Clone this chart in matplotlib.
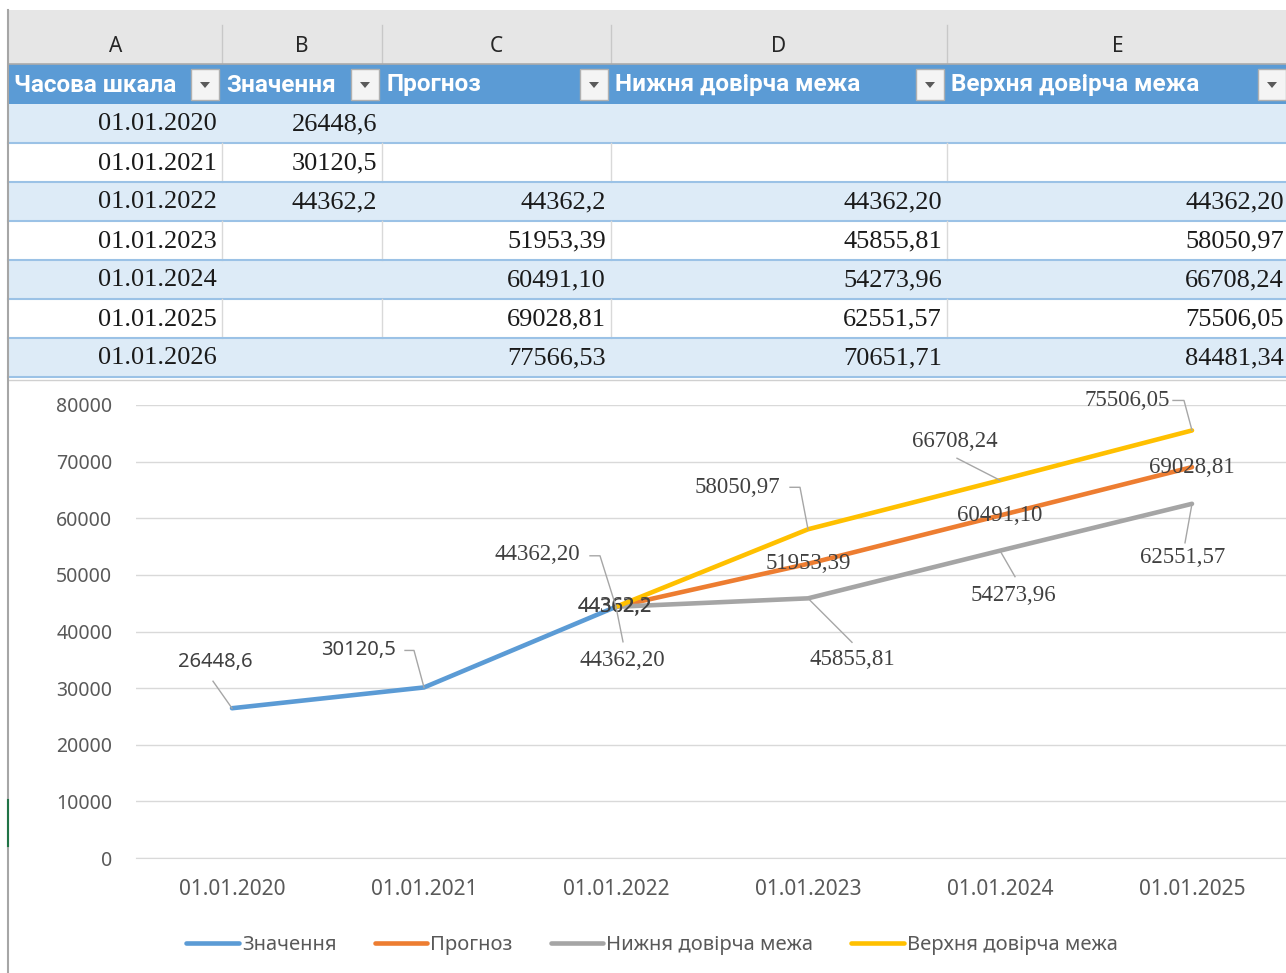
import matplotlib.pyplot as plt
from matplotlib.patches import Rectangle, Polygon
from matplotlib.lines import Line2D
from matplotlib.transforms import IdentityTransform

# ---- data ----
dates = ['01.01.2020', '01.01.2021', '01.01.2022', '01.01.2023',
         '01.01.2024', '01.01.2025', '01.01.2026']
znachennia = [26448.6, 30120.5, 44362.2]
prohnoz = [44362.2, 51953.39, 60491.10, 69028.81, 77566.53]
nyzhnia = [44362.20, 45855.81, 54273.96, 62551.57, 70651.71]
verkhnia = [44362.20, 58050.97, 66708.24, 75506.05, 84481.34]
forecast_start = 2      # index of the date where forecast begins
n_chart = 6             # chart shows dates up to 01.01.2025

col_letters = ['A', 'B', 'C', 'D', 'E']
headers = ['Часова шкала', 'Значення', 'Прогноз',
           'Нижня довірча межа', 'Верхня довірча межа']
series_names = ['Значення', 'Прогноз', 'Нижня довірча межа', 'Верхня довірча межа']
colors = ['#5B9BD5', '#ED7D31', '#A5A5A5', '#FFC000']
decimals = [[1, 1, 1], [1, 2, 2, 2, 2], [2] * 5, [2] * 5]


def ua(v, d):
    return f'{v:.{d}f}'.replace('.', ',')


W, H = 1286, 973
fig = plt.figure(figsize=(W / 100, H / 100), dpi=100)

# ---- spreadsheet part (pixel coordinates) ----
bg = fig.add_axes([0, 0, 1, 1])
bg.set_xlim(0, W)
bg.set_ylim(H, 0)
bg.axis('off')

edges = [10, 222, 382, 611, 947, 1289]
bg.add_patch(Rectangle((8, 10), W, 54, color='#E6E6E6', lw=0))
for i, letter in enumerate(col_letters):
    bg.text((edges[i] + edges[i + 1]) / 2, 46, letter, ha='center', va='center',
            fontsize=15, family='Noto Sans', color='#262626')
for e in edges[1:-1]:
    bg.plot([e, e], [25, 63], color='#C8C8C8', lw=1)
bg.plot([8, W], [63.5, 63.5], color='#ABABAB', lw=1.2)

# header row
bg.add_patch(Rectangle((8, 64), W, 40, color='#5B9BD5', lw=0))
for i, h in enumerate(headers):
    bg.text(edges[i] + 4, 85, h, ha='left', va='center', fontsize=17.5,
            fontweight='bold', family='Roboto', color='white')
    r = edges[i + 1] - 3
    bg.add_patch(Rectangle((r - 28, 69), 28, 31, facecolor='#F4F4F4',
                           edgecolor='#B0B0B0', lw=1))
    cx = r - 14
    bg.add_patch(Polygon([[cx - 5, 82], [cx + 5, 82], [cx, 88]], color='#5A5A5A', lw=0))

# data rows
row_h = 39
for i, d in enumerate(dates):
    top = 104 + i * row_h
    fill = '#DDEBF7' if i % 2 == 0 else 'white'
    bg.add_patch(Rectangle((8, top), W, row_h, color=fill, lw=0))
    if i % 2 == 1:
        for e in edges[1:-1]:
            bg.plot([e, e], [top, top + row_h], color='#D9D9D9', lw=1)
    bg.plot([8, W], [top + row_h, top + row_h], color='#9BC2E6', lw=1.5)
    cy = top + row_h / 2 + 1
    cells = [d, '', '', '', '']
    if i < len(znachennia):
        cells[1] = ua(znachennia[i], decimals[0][i])
    if i >= forecast_start:
        k = i - forecast_start
        cells[2] = ua(prohnoz[k], decimals[1][k])
        cells[3] = ua(nyzhnia[k], decimals[2][k])
        cells[4] = ua(verkhnia[k], decimals[3][k])
    for j, c in enumerate(cells):
        bg.text(edges[j + 1] - 5, cy, c, ha='right', va='center', fontsize=19,
                family='Liberation Serif', color='#1a1a1a')

bg.plot([8, W], [380, 380], color='#D0D0D0', lw=1)
bg.plot([8, 8], [10, H], color='#A6A6A6', lw=1.5)
bg.plot([8, 8], [800, 846], color='#217346', lw=1.5)

# ---- chart ----
left, right, y0px, y1px = 136, W, 858, 405
ax = fig.add_axes([left / W, (H - y0px) / H, (right - left) / W, (y0px - y1px) / H])
ax.set_facecolor('none')
ax.set_xlim(-0.5, -0.5 + (right - left) / 192)
ax.set_ylim(0, 80000)
ax.set_yticks(range(0, 80001, 10000))
ax.set_xticks(range(n_chart))
ax.set_xticklabels(dates[:n_chart])
ax.grid(axis='y', color='#D9D9D9', lw=1)
ax.set_axisbelow(True)
for s in ['top', 'right', 'left']:
    ax.spines[s].set_visible(False)
ax.spines['bottom'].set_color('#D9D9D9')
ax.tick_params(length=0, colors='#595959', labelsize=14)
ax.tick_params(axis='y', pad=17)
ax.tick_params(axis='x', pad=15, labelsize=15)
for t in ax.get_xticklabels() + ax.get_yticklabels():
    t.set_family('Noto Sans')

xs_all = list(range(n_chart))
series = [
    (xs_all[:len(znachennia)], znachennia),
    (xs_all[forecast_start:], prohnoz[:n_chart - forecast_start]),
    (xs_all[forecast_start:], nyzhnia[:n_chart - forecast_start]),
    (xs_all[forecast_start:], verkhnia[:n_chart - forecast_start]),
]
for k, (xs, ys) in enumerate(series):
    ax.plot(xs, ys, color=colors[k], lw=3.3, solid_capstyle='round',
            label=series_names[k], zorder=3 + k)

# label placement (pixel offsets from point, y up) and leader paths
label_off = [
    [(-17, 46), (-66, 37), (-1, 0)],
    [(-1, 0), (0, 0), (0, 0), (0, 0)],
    [(6, -54), (44, -61), (13, -45), (-9, -54)],
    [(-79, 52), (-71, 42), (-45, 39), (-65, 30)],
]
leaders = [
    [[(-19, 27)], [(-19, 37), (-10, 37)], None],
    [None, None, None, None],
    [[(7, -35)], [(44, -44)], [(15, -26)], [(-7, -39)]],
    [[(-26, 51), (-16, 51)], [(-18, 42), (-8, 42)], [(-43, 22)], [(-19, 30), (-8, 30)]],
]
label_font = ['Noto Sans', 'Liberation Serif', 'Liberation Serif', 'Liberation Serif']
label_size = [14.5, 16.5, 16.5, 16.5]

for k, (xs, ys) in enumerate(series):
    for j, (x, y) in enumerate(zip(xs, ys)):
        dx, dy = label_off[k][j]
        ax.annotate(ua(y, decimals[k][j]), xy=(x, y), xytext=(dx, dy),
                    textcoords='offset pixels', ha='center', va='center',
                    fontsize=label_size[k], family=label_font[k],
                    color='#404040', zorder=10)
        if leaders[k][j]:
            px, py = ax.transData.transform((x, y))
            pts = leaders[k][j] + [(0, 0)]
            fig.add_artist(Line2D([px + a for a, b in pts], [py + b for a, b in pts],
                                  transform=IdentityTransform(), color='#A6A6A6',
                                  lw=1, zorder=2))

fig.legend(loc='center', bbox_to_anchor=(0.507, 0.0288), ncol=4, frameon=False,
           prop={'family': 'Noto Sans', 'size': 14.5}, labelcolor='#595959',
           handlelength=2.6, handletextpad=0.15, columnspacing=1.9)

fig.savefig('out.png', dpi=100)
